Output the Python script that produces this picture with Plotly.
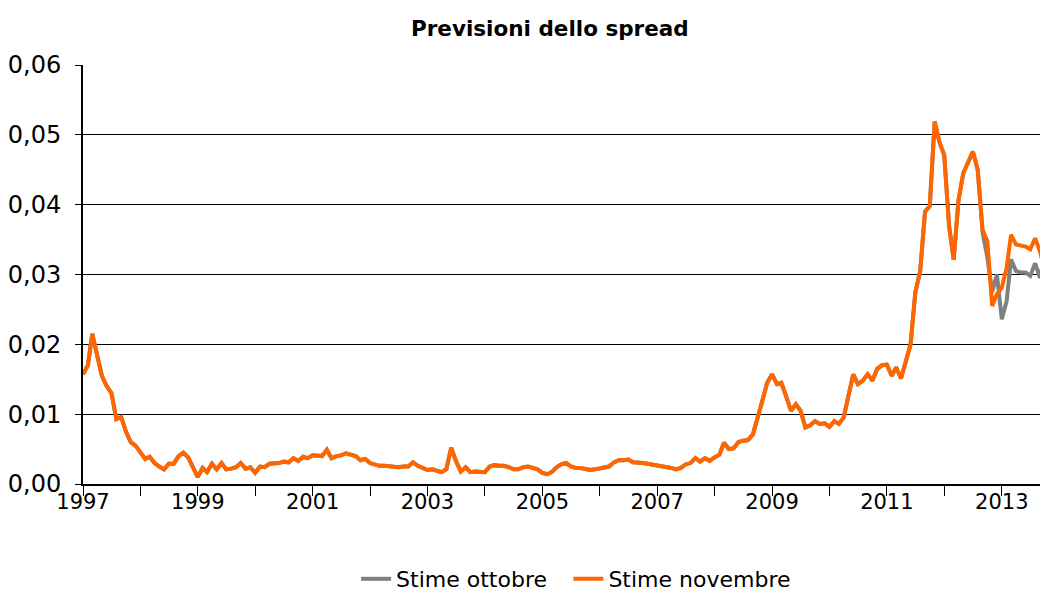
import plotly.graph_objects as go
import pandas as pd

title = "Previsioni dello spread"
series_names = ["Stime ottobre", "Stime novembre"]

# monthly values, Jan 1997 onward
novembre = [
    0.0157, 0.0170, 0.0215, 0.0185, 0.0155, 0.0140, 0.0130, 0.0093, 0.0096, 0.0075, 0.0060, 0.0055,
    0.0045, 0.0036, 0.0039, 0.0030, 0.0025, 0.0021, 0.0029, 0.0029, 0.0040, 0.0045, 0.0038, 0.0025,
    0.0010, 0.0023, 0.0017, 0.0029, 0.0021, 0.0030, 0.0021, 0.0022, 0.0024, 0.0030, 0.0022, 0.0024,
    0.0016, 0.0025, 0.0024, 0.0029, 0.0029, 0.0030, 0.0032, 0.0031, 0.0037, 0.0033, 0.0039, 0.0037,
    0.0041, 0.0040, 0.0040, 0.0049, 0.0037, 0.0040, 0.0041, 0.0044, 0.0042, 0.0040, 0.0034, 0.0036,
    0.0030, 0.0028, 0.0026, 0.0026, 0.0025, 0.0024, 0.0024, 0.0025, 0.0025, 0.0031, 0.0026, 0.0023,
    0.0020, 0.0021, 0.0019, 0.0017, 0.0021, 0.0052, 0.0033, 0.0018, 0.0024, 0.0017, 0.0018, 0.0018,
    0.0017, 0.0025, 0.0027, 0.0026, 0.0026, 0.0024, 0.0021, 0.0021, 0.0024, 0.0025, 0.0023, 0.0021,
    0.0016, 0.0014, 0.0017, 0.0024, 0.0028, 0.0030, 0.0025, 0.0023, 0.0023, 0.0021, 0.0020, 0.0021,
    0.0022, 0.0023, 0.0025, 0.0031, 0.0034, 0.0034, 0.0035, 0.0031, 0.0031, 0.0030, 0.0029, 0.0028,
    0.0027, 0.0025, 0.0024, 0.0023, 0.0021, 0.0023, 0.0028, 0.0030, 0.0037, 0.0032, 0.0037, 0.0033,
    0.0038, 0.0042, 0.0059, 0.0050, 0.0051, 0.0060, 0.0062, 0.0063, 0.0071, 0.0093, 0.0120, 0.0145,
    0.0157, 0.0143, 0.0145, 0.0125, 0.0105, 0.0114, 0.0105, 0.0081, 0.0084, 0.0090, 0.0086, 0.0087,
    0.0082, 0.0090, 0.0086, 0.0095, 0.0125, 0.0157, 0.0143, 0.0148, 0.0157, 0.0148, 0.0165, 0.0170,
    0.0171, 0.0155, 0.0167, 0.0151, 0.0175, 0.0200, 0.0274, 0.0305, 0.0390, 0.0398, 0.0519, 0.0490,
    0.0471, 0.0369, 0.0321, 0.0407, 0.0445, 0.0462, 0.0476, 0.0450, 0.0364, 0.0348, 0.0255, 0.0272,
    0.0281, 0.0310, 0.0357, 0.0343, 0.0341, 0.0340, 0.0336, 0.0352, 0.0333, 0.0307, 0.0290,
]

ottobre_tail = [0.0360, 0.0325, 0.0275, 0.0300, 0.0236, 0.0262, 0.0322, 0.0305, 0.0303, 0.0303,
                0.0298, 0.0316, 0.0295, 0.0330, 0.0290]
ottobre = novembre[:len(novembre) - len(ottobre_tail)] + ottobre_tail

dates = pd.date_range("1997-01-01", periods=len(novembre), freq="MS")

colors = ["#808080", "#FF6600"]
font_family = "Liberation Sans Narrow, DejaVu Sans, sans-serif"

fig = go.Figure()
fig.add_trace(go.Scatter(x=dates, y=ottobre, name=series_names[0], mode="lines",
                         line=dict(color=colors[0], width=4), legend="legend"))
fig.add_trace(go.Scatter(x=dates, y=novembre, name=series_names[1], mode="lines",
                         line=dict(color=colors[1], width=4), legend="legend2"))

legend_common = dict(orientation="h", xanchor="left", y=-0.228, yanchor="middle",
                     font=dict(size=22), itemwidth=30, bgcolor="rgba(0,0,0,0)")

fig.update_layout(
    width=1040, height=592,
    margin=dict(l=72, r=0, t=57, b=115),
    paper_bgcolor="white", plot_bgcolor="white",
    separators=",.",
    font=dict(family=font_family, color="black", size=20),
    title=dict(text="<b>" + title + "</b>", x=0.521, xanchor="center", y=0.965, yanchor="middle",
               font=dict(size=21.5)),
    showlegend=True,
    legend=dict(x=0.283, **legend_common),
    legend2=dict(x=0.503, **legend_common),
)
fig.update_yaxes(
    range=[0, 0.06], dtick=0.01, tickformat=".2f",
    showgrid=True, gridcolor="black", gridwidth=1,
    showline=True, linecolor="black", linewidth=2,
    ticks="outside", ticklen=6, tickcolor="black",
    tickfont=dict(size=24), ticklabelstandoff=9, zeroline=False,
)
fig.update_xaxes(
    type="date", range=["1997-01-01", "2013-10-22"],
    tick0="1997-01-01", dtick="M24", tickformat="%Y",
    showgrid=False, showline=True, linecolor="black", linewidth=2,
    ticks="outside", ticklen=10, tickcolor="black",
    minor=dict(dtick="M12", tick0="1997-01-01", ticks="outside", ticklen=10, tickcolor="black", showgrid=False),
    tickfont=dict(size=21), ticklabelstandoff=-12,
)
fig.write_html("out.html")
